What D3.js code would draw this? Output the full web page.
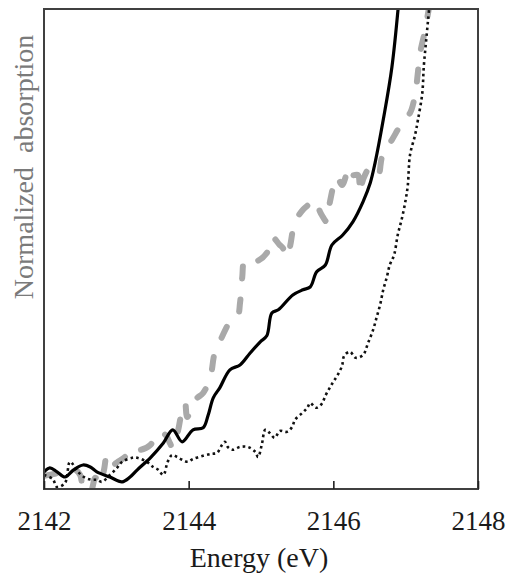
<!DOCTYPE html>
<html>
	<head>
		<meta charset="UTF-8" />
	</head>
	<body style="margin:0">
		<svg id="svg" width="507" height="574"></svg>

		<script src="https://d3js.org/d3.v7.min.js"></script>
		<script>
			// tick labels on the energy axis
			const xTicks = [2142, 2144, 2146, 2148];

			// solid black curve
			const solidE = [2142.00, 2142.08, 2142.18, 2142.29, 2142.41, 2142.54, 2142.64, 2142.73, 2142.91, 2143.08,
				2143.19, 2143.29, 2143.47, 2143.65, 2143.78, 2143.91, 2144.06, 2144.20, 2144.27, 2144.34,
				2144.43, 2144.57, 2144.71, 2144.85, 2144.99, 2145.08, 2145.15, 2145.24, 2145.44, 2145.58,
				2145.68, 2145.77, 2145.89, 2145.98, 2146.13, 2146.27, 2146.41, 2146.51, 2146.58, 2146.69,
				2146.81, 2146.92];
			const solidA = [0.043, 0.053, 0.043, 0.030, 0.048, 0.060, 0.055, 0.043, 0.030, 0.018,
				0.030, 0.048, 0.078, 0.115, 0.148, 0.118, 0.148, 0.153, 0.185, 0.228,
				0.253, 0.298, 0.310, 0.340, 0.368, 0.383, 0.440, 0.448, 0.485, 0.498,
				0.505, 0.543, 0.560, 0.610, 0.635, 0.668, 0.718, 0.765, 0.818, 0.923,
				1.055, 1.250];

			// grey dashed curve
			const dashE = [2142.00, 2142.15, 2142.29, 2142.43, 2142.50, 2142.55, 2142.64, 2142.71, 2142.77, 2142.83,
				2142.87, 2142.94, 2143.02, 2143.12, 2143.22, 2143.33, 2143.47, 2143.53, 2143.60, 2143.69,
				2143.74, 2143.78, 2143.85, 2143.91, 2143.95, 2143.98, 2144.09, 2144.20, 2144.30, 2144.36,
				2144.46, 2144.54, 2144.61, 2144.68, 2144.71, 2144.74, 2144.78, 2144.92, 2145.08, 2145.15,
				2145.26, 2145.30, 2145.36, 2145.40, 2145.47, 2145.58, 2145.65, 2145.72, 2145.79, 2145.84,
				2145.91, 2145.95, 2146.05, 2146.12, 2146.18, 2146.23, 2146.27, 2146.34, 2146.37, 2146.41,
				2146.51, 2146.62, 2146.67, 2146.76, 2146.81, 2146.89, 2146.99, 2147.06, 2147.13, 2147.17,
				2147.20, 2147.27, 2147.31, 2147.35];
			const dashA = [0.033, 0.038, 0.043, 0.048, 0.035, -0.003, -0.008, 0.028, 0.010, 0.048,
				0.085, 0.060, 0.068, 0.080, 0.103, 0.098, 0.110, 0.128, 0.143, 0.133,
				0.115, 0.103, 0.143, 0.198, 0.215, 0.180, 0.223, 0.240, 0.280, 0.340,
				0.380, 0.410, 0.430, 0.435, 0.465, 0.528, 0.573, 0.568, 0.590, 0.630,
				0.610, 0.603, 0.580, 0.605, 0.668, 0.698, 0.710, 0.723, 0.703, 0.685,
				0.668, 0.715, 0.780, 0.760, 0.785, 0.805, 0.785, 0.785, 0.740, 0.773,
				0.803, 0.785, 0.828, 0.860, 0.873, 0.898, 0.928, 0.940, 0.985, 1.043,
				1.090, 1.148, 1.190, 1.230];

			// black dotted curve
			const dotE = [2142.00, 2142.12, 2142.18, 2142.29, 2142.36, 2142.47, 2142.57, 2142.66, 2142.73, 2142.80,
				2142.91, 2143.01, 2143.08, 2143.22, 2143.29, 2143.42, 2143.51, 2143.58, 2143.65, 2143.71,
				2143.77, 2143.84, 2143.91, 2143.99, 2144.06, 2144.20, 2144.32, 2144.39, 2144.46, 2144.50,
				2144.54, 2144.61, 2144.71, 2144.82, 2144.92, 2144.96, 2145.01, 2145.06, 2145.12, 2145.19,
				2145.26, 2145.36, 2145.43, 2145.47, 2145.57, 2145.64, 2145.68, 2145.76, 2145.84, 2145.89,
				2145.95, 2146.00, 2146.06, 2146.12, 2146.15, 2146.23, 2146.31, 2146.41, 2146.48, 2146.55,
				2146.60, 2146.65, 2146.69, 2146.74, 2146.78, 2146.84, 2146.89, 2146.95, 2147.00, 2147.03,
				2147.06, 2147.13, 2147.17, 2147.23, 2147.25, 2147.28, 2147.31, 2147.34];
			const dotA = [0.035, 0.025, 0.005, 0.015, 0.068, 0.043, 0.028, 0.023, 0.023, 0.018,
				0.035, 0.053, 0.068, 0.078, 0.078, 0.068, 0.055, 0.048, 0.035, 0.068,
				0.085, 0.080, 0.073, 0.068, 0.075, 0.083, 0.088, 0.090, 0.110, 0.118,
				0.105, 0.098, 0.105, 0.105, 0.093, 0.080, 0.110, 0.148, 0.140, 0.128,
				0.145, 0.143, 0.155, 0.173, 0.190, 0.203, 0.215, 0.203, 0.213, 0.233,
				0.253, 0.268, 0.285, 0.308, 0.333, 0.343, 0.328, 0.335, 0.365, 0.398,
				0.430, 0.463, 0.498, 0.530, 0.560, 0.585, 0.635, 0.678, 0.723, 0.760,
				0.835, 0.885, 0.923, 0.990, 1.055, 1.115, 1.173, 1.230];

			const plotLeft = 44, plotRight = 478, plotTop = 9, plotBottom = 489;
			const labelFont = "'Liberation Serif', 'Times New Roman', Times, serif";

			const xScale = d3.scaleLinear().domain([2142, 2148]).range([plotLeft, plotRight]);
			const yScale = d3.scaleLinear().domain([0, 1.2]).range([plotBottom, plotTop]);

			const svg = d3.select('#svg');

			svg.append('clipPath')
				.attr('id', 'plot')
				.append('rect')
				.attr('x', plotLeft)
				.attr('y', plotTop)
				.attr('width', plotRight - plotLeft)
				.attr('height', plotBottom - plotTop);

			const line = d3.line()
				.x((d) => xScale(d[0]))
				.y((d) => yScale(d[1]))
				.curve(d3.curveCatmullRom);

			const curves = svg.append('g').attr('clip-path', 'url(#plot)');

			curves.append('path')
				.attr('d', line(dashE.map((e, i) => [e, dashA[i]])))
				.attr('fill', 'none')
				.attr('stroke', '#a9a9a9')
				.attr('stroke-width', 6)
				.attr('stroke-linecap', 'round')
				.attr('stroke-dasharray', '12,21');

			curves.append('path')
				.attr('d', line(dotE.map((e, i) => [e, dotA[i]])))
				.attr('fill', 'none')
				.attr('stroke', '#111')
				.attr('stroke-width', 2.6)
				.attr('stroke-dasharray', '2.6,3.2');

			curves.append('path')
				.attr('d', line(solidE.map((e, i) => [e, solidA[i]])))
				.attr('fill', 'none')
				.attr('stroke', '#000')
				.attr('stroke-width', 3.2)
				.attr('stroke-linejoin', 'round');

			// frame
			svg.append('rect')
				.attr('x', plotLeft)
				.attr('y', plotTop)
				.attr('width', plotRight - plotLeft)
				.attr('height', plotBottom - plotTop)
				.attr('fill', 'none')
				.attr('stroke', '#404040')
				.attr('stroke-width', 2);

			const xAxis = d3.axisBottom(xScale)
				.tickValues(xTicks)
				.tickFormat(d3.format('d'))
				.tickSizeInner(-8)
				.tickSizeOuter(0)
				.tickPadding(22);

			const gx = svg.append('g')
				.attr('transform', `translate(0,${plotBottom})`)
				.call(xAxis);
			gx.select('.domain').remove();
			gx.selectAll('line').attr('stroke', '#222').attr('stroke-width', 1.6);
			gx.selectAll('text')
				.style('font-family', labelFont, 'important')
				.style('font-size', '27px', 'important')
				.attr('fill', '#1a1a1a');

			svg.append('text')
				.attr('x', 259)
				.attr('y', 567)
				.attr('text-anchor', 'middle')
				.style('font-family', labelFont, 'important')
				.style('font-size', '28px', 'important')
				.attr('fill', '#1a1a1a')
				.text('Energy (eV)');

			svg.append('text')
				.attr('transform', 'translate(33,167) rotate(-90)')
				.attr('text-anchor', 'middle')
				.style('font-family', labelFont, 'important')
				.style('font-size', '28px', 'important')
				.attr('fill', '#7a7a7a')
				.text('Normalized\u00a0\u00a0absorption');
		</script>
	</body>
</html>
